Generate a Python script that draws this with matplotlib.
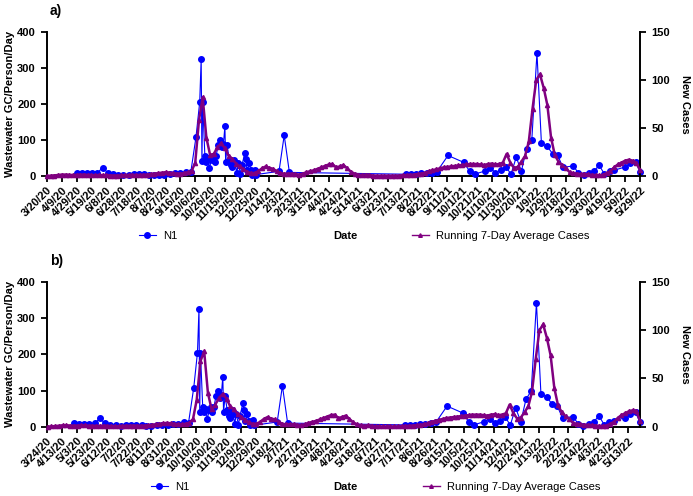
import matplotlib
matplotlib.use('Agg')
import matplotlib.pyplot as plt
import numpy as np
import pandas as pd
from matplotlib.lines import Line2D

plt.rcParams['font.family'] = ['Liberation Sans', 'DejaVu Sans']

BLUE = '#0000FF'
PURPLE = '#800080'

# N1 wastewater samples: day offset from 3/20/20 and GC/person/day
n1_days = [40, 47, 54, 61, 68, 75, 82, 89, 96, 103, 110, 117, 124, 131, 137, 144, 151, 158, 166, 173,
           180, 188, 194,
           201, 206, 208, 209, 210, 213, 215, 217, 219, 222, 224, 226, 228, 231, 233, 236, 238, 240,
           241, 243, 246, 248, 250, 252, 254, 256, 258, 261, 263, 267, 268, 270, 273, 275, 277, 280,
           282, 313, 320, 327,
           484, 491, 498, 505, 512, 519, 526, 541, 562, 570, 577, 591, 598, 605, 612, 619, 626, 633,
           640, 647, 654, 661, 667, 675, 682, 689, 696, 710, 717, 724, 731, 738, 745, 752, 759, 765,
           780, 787, 794, 800]
n1_vals = [9, 8, 8, 8, 9, 23, 9, 5, 4, 3, 4, 5, 5, 5, 3, 3, 4, 4, 5, 7,
           8, 12, 11,
           108, 205, 325, 42, 205, 55, 40, 50, 22, 45, 55, 40, 55, 85, 100, 80, 88, 138,
           40, 85, 45, 30, 25, 45, 35, 8, 35, 6, 30, 65, 47, 16, 35, 16, 4, 18,
           4, 13, 113, 10,
           5, 5, 5, 7, 7, 9, 12, 57, 38, 14, 5, 14, 22, 9, 17, 26, 5, 52,
           14, 76, 99, 342, 91, 82, 62, 57, 24, 28, 8, 3, 8, 14, 30, 5, 14, 16,
           25, 35, 40, 12]

# running 7-day average new cases, every 5 days from 3/20/20 (panel a)
cases_a = [0, 0.3, 0.5, 1, 1.5, 1.5, 1.2, 1, 1.2, 1.5,
           1.5, 1, 1, 0.8, 1, 1, 0.8, 0.5, 0.5, 0.5,
           0.8, 1, 1, 1.2, 1, 1, 1.2, 1.5, 2, 2.5,
           3, 3.5, 4, 3.5, 3, 2.5, 2.5, 3, 4, 5,
           14, 58, 82, 40, 22, 23, 30, 34, 29, 21,
           18, 13, 10, 7, 4.5, 3, 3, 5, 8, 10,
           8.5, 7.5, 5, 3, 2.5, 2.5, 2.5, 2, 1.5, 2.5,
           4, 5, 6, 7.5, 9, 10.5, 12, 12.5, 9, 10,
           11.5, 8, 4.5, 2.5, 1.5, 1, 1.5, 1, 0.5, 0.3,
           0.3, 0.3, 0.3, 0.3, 0.3, 0.5, 0.7, 1, 1.2, 1.5,
           2, 2.5, 3.5, 5, 6, 7, 8, 9, 9.5, 10,
           10.5, 11, 11.5, 12, 12.5, 12.5, 12.5, 12, 11.5, 12.5,
           13, 12, 12.5, 14, 23, 14, 8.5, 9.5, 15, 21,
           36, 70, 100, 106, 92, 74, 40, 22, 15, 11,
           8, 4, 3, 2.5, 2, 2, 1.7, 1.2, 1, 0.7,
           1.2, 3, 5, 9, 12, 14, 16, 17, 16, 14,
           6]

# same, every 5 days from 3/25/20 (panel b)
cases_b = [0, 0.3, 0.5, 1, 1.5, 1.5, 1.2, 1, 1.2, 1.5,
           1.5, 1, 1, 0.8, 1, 1, 0.8, 0.5, 0.5, 0.5,
           0.8, 1, 1, 1.2, 1, 1, 1.2, 1.5, 2, 2.5,
           3, 3.5, 4, 3.5, 3, 2.5, 2.5, 3, 4, 8,
           28, 68, 78, 35, 18, 23, 30, 34, 29, 21,
           18, 13, 10, 7, 4.5, 3, 3, 5, 8, 10,
           8.5, 7.5, 5, 3, 2.5, 2.5, 2.5, 2, 1.5, 2.5,
           4, 5, 6, 7.5, 9, 10.5, 12, 12.5, 9, 10,
           11.5, 8, 4.5, 2.5, 1.5, 1, 1.5, 1, 0.5, 0.3,
           0.3, 0.3, 0.3, 0.3, 0.3, 0.5, 0.7, 1, 1.2, 1.5,
           2, 2.5, 3.5, 5, 6, 7, 8, 9, 9.5, 10,
           10.5, 11, 11.5, 12, 12.5, 12.5, 12.5, 12, 11.5, 12.5,
           13, 12, 12.5, 14, 23, 14, 8.5, 9.5, 15, 21,
           36, 70, 100, 106, 92, 74, 40, 22, 15, 11,
           8, 4, 3, 2.5, 2, 2, 1.7, 1.2, 1, 0.7,
           1.2, 3, 5, 9, 12, 14, 16, 17, 16, 6]

W, H = 693, 496


def draw_panel(fig, top_px, bot_px, tick_start, cases, cases_start, letter, n1_leg_x, avg_leg_x, leg_y):
    rect = [47 / W, 1 - bot_px / H, (640 - 47) / W, (bot_px - top_px) / H]
    ax = fig.add_axes(rect)
    ax2 = ax.twinx()

    n1_dates = (pd.Timestamp('2020-03-20') + pd.to_timedelta(n1_days, unit='D')).to_numpy()
    ax.plot(n1_dates, n1_vals, color=BLUE, lw=0.8, marker='o', ms=4, clip_on=False, zorder=3)

    c_dates = pd.date_range(cases_start, periods=len(cases), freq='5D').to_numpy()
    ax2.plot(c_dates, cases, color=PURPLE, lw=1.8, marker='^', ms=3, clip_on=False, zorder=3)

    ticks = pd.date_range(tick_start, '2022-05-29', freq='20D')
    ax.set_xlim(pd.Timestamp(tick_start).to_numpy(), pd.Timestamp('2022-05-29').to_numpy())
    ax.set_xticks(ticks.to_numpy())
    ax.set_xticklabels([f"{d.month}/{d.day}/{d.year % 100}" for d in ticks],
                       rotation=45, ha='right', va='top', rotation_mode='anchor',
                       fontsize=7, fontweight='bold')

    ax.set_ylim(0, 400)
    ax.set_yticks([0, 100, 200, 300, 400])
    ax2.set_ylim(0, 150)
    ax2.set_yticks([0, 50, 100, 150])
    for a in (ax, ax2):
        a.spines['top'].set_visible(False)
        for s in a.spines.values():
            s.set_linewidth(1.4)
        a.tick_params(direction='out', length=4.5, width=1.3, labelsize=8)
        for t in a.get_yticklabels():
            t.set_fontweight('bold')
    ax.spines['right'].set_visible(False)
    ax2.spines['left'].set_visible(False)
    ax2.spines['bottom'].set_visible(False)
    ax.tick_params(axis='x', pad=2)

    mid = 1 - (top_px + bot_px) / 2 / H
    fig.text(10 / W, mid, 'Wastewater GC/Person/Day', rotation=90, ha='center', va='center',
             fontsize=8, fontweight='bold')
    fig.text(685 / W, mid, 'New Cases', rotation=270, ha='center', va='center',
             fontsize=8, fontweight='bold')
    fig.text(50 / W, 1 - (top_px - 21) / H, letter, ha='left', va='center',
             fontsize=10, fontweight='bold')
    fig.text(345 / W, 1 - leg_y / H, 'Date', ha='center', va='center', fontsize=8, fontweight='bold')

    h1 = Line2D([], [], color=BLUE, lw=0.8, marker='o', ms=4)
    h2 = Line2D([], [], color=PURPLE, lw=1.0, marker='^', ms=2.6)
    for h, lab, x in ((h1, 'N1', n1_leg_x), (h2, 'Running 7-Day Average Cases', avg_leg_x)):
        fig.legend([h], [lab], loc='center left', bbox_to_anchor=(x / W, 1 - leg_y / H),
                   frameon=False, fontsize=8, handlelength=1.5, handletextpad=0.7,
                   borderpad=0, borderaxespad=0)
    return ax


fig = plt.figure(figsize=(W / 100, H / 100), dpi=100)
draw_panel(fig, 32, 176, '2020-03-20', cases_a, '2020-03-20', 'a)', 139, 412, 236)
draw_panel(fig, 282, 426.7, '2020-03-24', cases_b, '2020-03-25', 'b)', 151, 423, 487)
fig.savefig('out.png', dpi=100)
